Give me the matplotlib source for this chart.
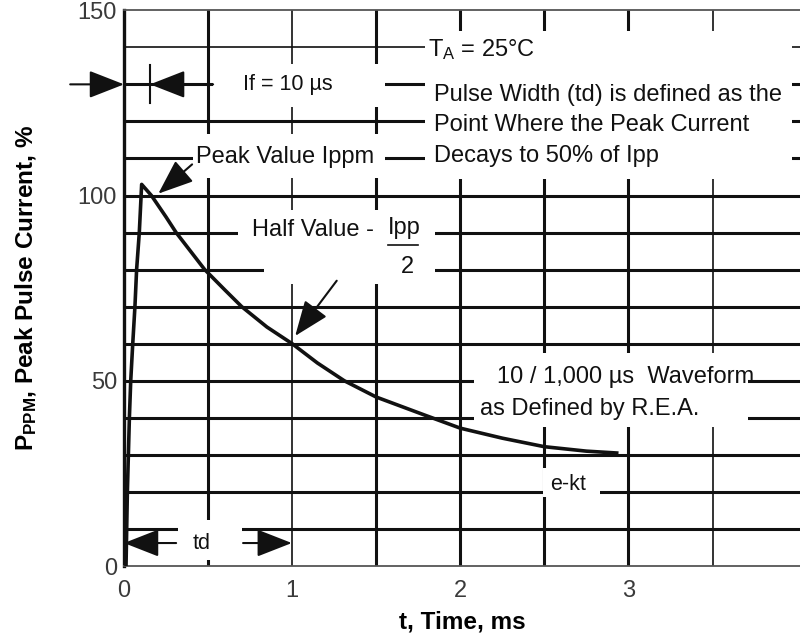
import numpy as np
import matplotlib
matplotlib.use("Agg")
from matplotlib import pyplot as plt
from matplotlib.patches import Rectangle

plt.rcParams["font.family"] = ["Liberation Sans", "DejaVu Sans"]
plt.rcParams["mathtext.default"] = "regular"

# waveform (t in ms, current in % of Ippm)
t_ms = [0.012, 0.02, 0.026, 0.032, 0.04, 0.052, 0.065, 0.075, 0.091, 0.105,
        0.163, 0.25, 0.31, 0.48, 0.6, 0.70, 0.85, 1.0, 1.15, 1.31, 1.5,
        1.79, 2.0, 2.25, 2.5, 2.75, 2.93]
pulse_pct = [0, 20, 30, 40, 50, 60, 70, 80, 90, 103,
             100, 94.2, 90, 80, 74.5, 70, 64.5, 60, 54.8, 50, 45.6,
             40.7, 37.2, 34.5, 32.2, 31.0, 30.5]

x_ticks = [0, 1, 2, 3]
y_ticks = [0, 50, 100, 150]
v_grid = [0.5, 1.0, 1.5, 2.0, 2.5, 3.0, 3.5]
v_thin = [1.0, 3.5]
h_grid = [10, 20, 30, 40, 50, 60, 70, 80, 90, 100, 110, 120, 130, 140]
h_thin = [140]

ink = "#111111"
fs = 17

fig = plt.figure(figsize=(8, 6.41), dpi=100)
ax = fig.add_axes([0.155, 0.117, 0.845, 0.867])
ax.set_xlim(0, 4.02)
ax.set_ylim(0, 150)

for v in v_grid:
    ax.axvline(v, color=ink, lw=1.2 if v in v_thin else 2.2, zorder=2)
for h in h_grid:
    ax.axhline(h, color=ink, lw=1.2 if h in h_thin else 2.2, zorder=2)

# white areas where the grid is cut for the notes
def blank(t0, t1, y0, y1):
    ax.add_patch(Rectangle((t0, y0), t1 - t0, y1 - y0, facecolor="white",
                           edgecolor="none", zorder=2.5))

blank(0.53, 1.55, 124, 135.5)
blank(0.41, 1.55, 104.7, 116.5)
blank(1.79, 3.97, 104.5, 144.5)
blank(0.68, 1.85, 85, 96)
blank(0.83, 1.85, 76, 85)
blank(2.08, 3.71, 37.5, 57.5)
blank(2.49, 2.83, 18.5, 26.5)
blank(0.32, 0.70, 1.6, 12.4)

ax.plot(t_ms, pulse_pct, color=ink, lw=2.6, zorder=4, solid_joinstyle="round")

arrow = dict(arrowstyle="-|>,head_length=1.15,head_width=0.45", color=ink,
             lw=1.5, mutation_scale=19, shrinkA=0, shrinkB=0)

# rise time marks
ax.annotate("", xy=(0, 130), xytext=(-0.32, 130), arrowprops=arrow,
            annotation_clip=False, zorder=5)
ax.annotate("", xy=(0.155, 130), xytext=(0.53, 130), arrowprops=arrow, zorder=5)
ax.plot([0.155, 0.155], [124.9, 135.2], color=ink, lw=1.5, zorder=5)
ax.text(0.976, 130, "If = 10 µs", fontsize=15.5, ha="center", va="center",
        color=ink, zorder=6)

ax.text(1.81, 139.3, "T$_{A}$ = 25°C", fontsize=fs, ha="left", va="center",
        color=ink, zorder=6)
notes = ["Pulse Width (td) is defined as the",
         "Point Where the Peak Current",
         "Decays to 50% of Ipp"]
for i, s in enumerate(notes):
    ax.text(1.845, 127.1 - 8.2 * i, s, fontsize=fs, ha="left", va="center",
            color=ink, zorder=6)

ax.text(0.43, 110.3, "Peak Value Ippm", fontsize=fs, ha="left", va="center",
        color=ink, zorder=6)
ax.annotate("", xy=(0.204, 100.5), xytext=(0.405, 108.4), arrowprops=arrow,
            zorder=5)

ax.text(0.76, 90.8, "Half Value -", fontsize=fs, ha="left", va="center",
        color=ink, zorder=6)
ax.text(1.57, 91.3, "Ipp", fontsize=fs, ha="left", va="center", color=ink,
        zorder=6)
ax.plot([1.57, 1.75], [86.7, 86.7], color=ink, lw=1.2, zorder=6)
ax.text(1.685, 80.8, "2", fontsize=fs, ha="center", va="center", color=ink,
        zorder=6)
ax.annotate("", xy=(1.018, 62.1), xytext=(1.265, 77), arrowprops=arrow,
            zorder=5)

ax.text(2.22, 51, "10 / 1,000 µs  Waveform", fontsize=fs, ha="left",
        va="center", color=ink, zorder=6)
ax.text(2.12, 42.3, "as Defined by R.E.A.", fontsize=fs, ha="left",
        va="center", color=ink, zorder=6)
ax.text(2.535, 22, "e-kt", fontsize=15.5, ha="left", va="center", color=ink,
        zorder=6)

# pulse width td
ax.text(0.46, 6.2, "td", fontsize=15.5, ha="center", va="center", color=ink,
        zorder=6)
ax.annotate("", xy=(0.0, 6.2), xytext=(0.31, 6.2), arrowprops=arrow, zorder=5)
ax.annotate("", xy=(0.998, 6.2), xytext=(0.708, 6.2), arrowprops=arrow,
            zorder=5)

ax.set_xticks(x_ticks)
ax.set_yticks(y_ticks)
ax.tick_params(length=0, labelsize=17, labelcolor="#3a3a3a")
ax.tick_params(axis="x", pad=10)
ax.tick_params(axis="y", pad=5)

ax.spines["right"].set_visible(False)
ax.spines["left"].set_linewidth(2.4)
ax.spines["left"].set_color(ink)
for side in ["top", "bottom"]:
    ax.spines[side].set_linewidth(1.3)
    ax.spines[side].set_color("#555555")

ax.set_xlabel("t, Time, ms", fontsize=17.5, fontweight="bold", labelpad=6)
ax.set_ylabel("P$_{PPM}$, Peak Pulse Current, %", fontsize=17.5,
              fontweight="bold", labelpad=28)

fig.savefig("out.png", dpi=100)
